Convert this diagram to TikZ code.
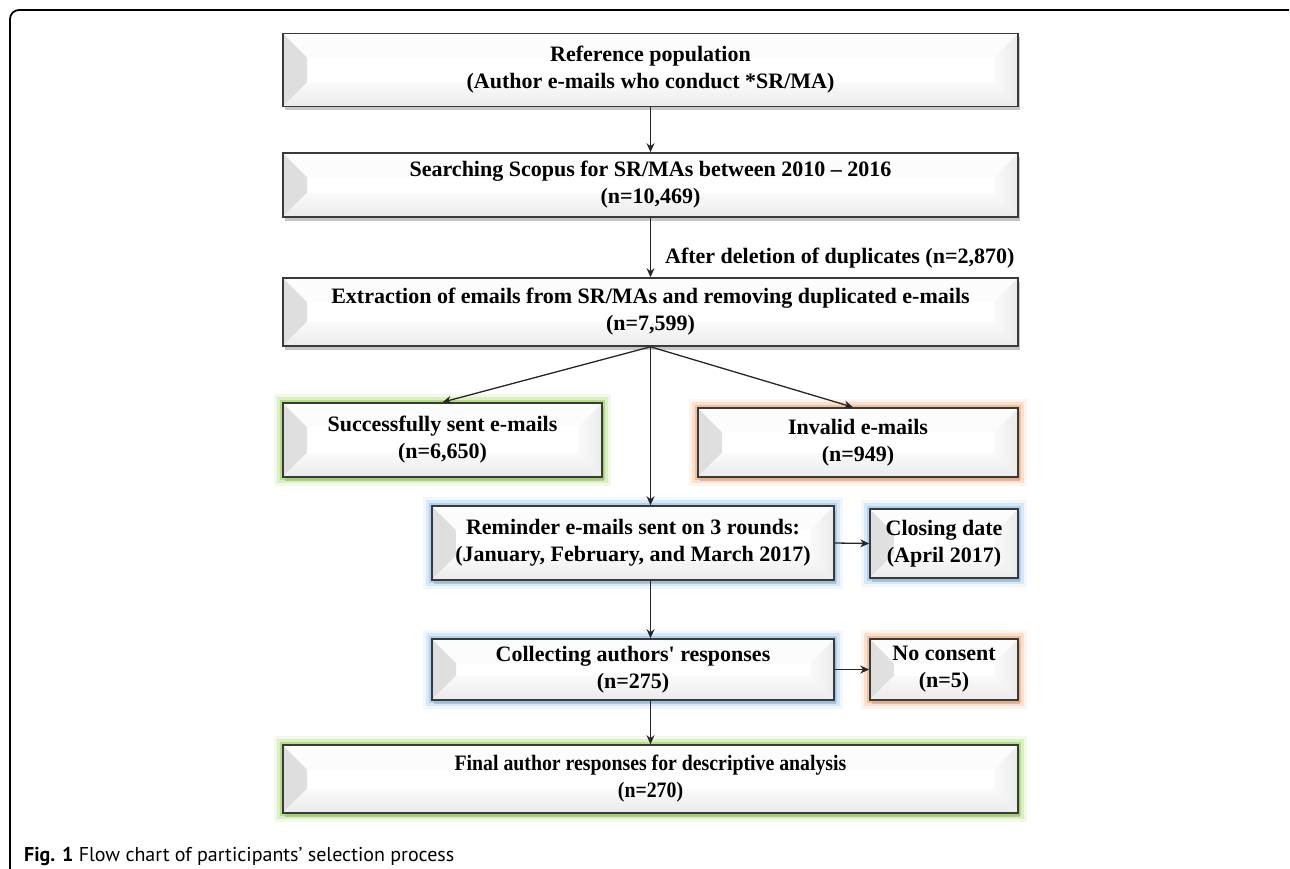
\documentclass[tikz,border=0pt]{standalone}
\usepackage{fontspec}
\newfontfamily\boxfont{Liberation Serif}
\newfontfamily\narrowfont{Liberation Serif}[FakeStretch=0.9]
\newfontfamily\capfont{PT Sans}
\usetikzlibrary{arrows.meta,shadows}

\definecolor{boxline}{HTML}{3A3A3A}
\definecolor{glowgreen}{HTML}{92D050}
\definecolor{gloworange}{HTML}{F0A56E}
\definecolor{glowblue}{HTML}{8EBDE8}

\begin{document}
\begin{tikzpicture}[x=1pt, y=-1pt,
  box/.style={draw=boxline, line width=1.6pt, fill=white, inner sep=0pt, align=center,
    font={\boxfont\bfseries\fontsize{22}{27}\selectfont},
    drop shadow={shadow xshift=2pt, shadow yshift=-4pt, opacity=0.22, fill=black},
    path picture={
      % bevel: left, top, right, bottom faces
      \fill[left color=black!13, right color=black!4]
        (path picture bounding box.south west) -- (path picture bounding box.north west)
        -- ([shift={(24pt,-24pt)}]path picture bounding box.north west)
        -- ([shift={(24pt,24pt)}]path picture bounding box.south west) -- cycle;
      \fill[black!1]
        (path picture bounding box.north west) -- (path picture bounding box.north east)
        -- ([shift={(-24pt,-24pt)}]path picture bounding box.north east)
        -- ([shift={(24pt,-24pt)}]path picture bounding box.north west) -- cycle;
      \fill[left color=black!2, right color=black!8]
        (path picture bounding box.south east) -- (path picture bounding box.north east)
        -- ([shift={(-24pt,-24pt)}]path picture bounding box.north east)
        -- ([shift={(-24pt,24pt)}]path picture bounding box.south east) -- cycle;
      \fill[top color=black!2, bottom color=black!8]
        ([shift={(24pt,24pt)}]path picture bounding box.south west)
        -- ([shift={(-24pt,24pt)}]path picture bounding box.south east)
        -- (path picture bounding box.south east) -- (path picture bounding box.south west) -- cycle;
    }},
  glow/.style={preaction={draw=#1, line width=18pt, opacity=0.12},
    preaction={draw=#1, line width=12pt, opacity=0.25},
    preaction={draw=#1, line width=6pt, opacity=0.55}},
  arr/.style={draw=black!85, line width=1.3pt, -{Stealth[length=9pt, width=8pt]}},
  lbl/.style={font={\boxfont\bfseries\fontsize{22}{27}\selectfont}, inner sep=0pt}]

\useasboundingbox (0,0) rectangle (1290,869);

% frame round the figure
\draw[line width=1.8pt, rounded corners=9pt] (10,869) -- (10,10) -- (1289,10);

% main column
\node[box, minimum width=735pt, minimum height=73pt] (ref) at (650.5,70)
  {Reference population\\(Author e-mails who conduct *SR/MA)};
\node[box, minimum width=735pt, minimum height=64pt] (search) at (650.5,185)
  {Searching Scopus for SR/MAs between 2010 – 2016\\(n=10,469)};
\node[box, minimum width=735pt, minimum height=68pt] (extract) at (650.5,312)
  {Extraction of emails from SR/MAs and removing duplicated e-mails\\(n=7,599)};

% split
\node[box, glow=glowgreen, minimum width=319pt, minimum height=74pt] (sent) at (442.5,440)
  {Successfully sent e-mails\\(n=6,650)};
\node[box, glow=gloworange, minimum width=320pt, minimum height=69pt] (invalid) at (858,442.5)
  {Invalid e-mails\\(n=949)};

% reminders and responses
\node[box, glow=glowblue, minimum width=402pt, minimum height=74pt] (remind) at (633,543)
  {Reminder e-mails sent on 3 rounds:\\(January, February, and March 2017)};
\node[box, glow=glowblue, minimum width=148pt, minimum height=69pt] (closing) at (944,543.5)
  {Closing date\\(April 2017)};
\node[box, glow=glowblue, minimum width=402pt, minimum height=61pt] (collect) at (633,669.5)
  {Collecting authors' responses\\(n=275)};
\node[box, glow=gloworange, minimum width=148pt, minimum height=61pt] (noconsent) at (944,669.5)
  {No consent\\(n=5)};
\node[box, glow=glowgreen, minimum width=735pt, minimum height=68pt,
  font={\narrowfont\bfseries\fontsize{22}{27}\selectfont}] (final) at (650.5,779)
  {Final author responses for descriptive analysis\\(n=270)};

% connectors
\draw[arr] (ref) -- (search);
\draw[arr] (search) -- node[lbl, anchor=west, pos=0.68, xshift=14pt] {After deletion of duplicates (n=2,870)} (extract);
\draw[arr] (extract.south) -- (sent.north);
\draw[arr] (extract.south) -- ([xshift=-5pt]invalid.north);
\draw[arr] (extract.south) -- (extract.south |- remind.north);
\draw[arr] (remind.east) -- (closing.west);
\draw[arr] (extract.south |- remind.south) -- (extract.south |- collect.north);
\draw[arr] (collect.east) -- (noconsent.west);
\draw[arr] (extract.south |- collect.south) -- (final.north);

% caption
\node[anchor=base west, inner sep=0pt, font={\capfont\fontsize{20}{24}\selectfont}] (caption) at (24,861)
  {\textbf{Fig. 1} Flow chart of participants’ selection process};
\end{tikzpicture}
\end{document}
